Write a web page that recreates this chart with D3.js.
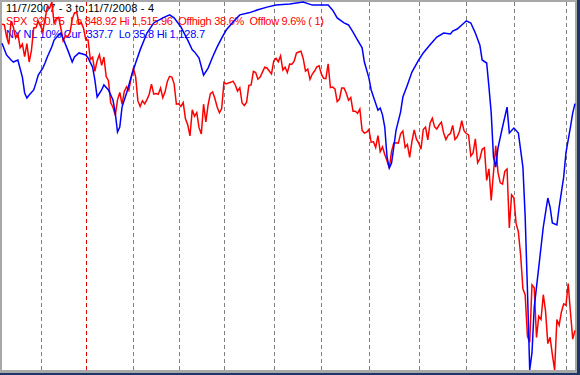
<!DOCTYPE html>
<html>
<head>
<meta charset="utf-8">
<script src="https://cdn.jsdelivr.net/npm/d3@7"></script>
<style>
  html, body { margin: 0; padding: 0; background: #1b3766; }
  svg { display: block; }
  text { white-space: pre; font-family: "Liberation Sans", Arial, sans-serif; font-size: 11px; }
</style>
</head>
<body>
<div class="chart"></div>
<script>
// trading days from 11/7/2007 to 11/7/2008, one close per day
var spxClose = [
  // Nov 2007
  1475.62, 1474.77, 1453.70, 1439.18, 1481.05, 1470.58, 1451.15, 1458.74, 1433.27, 1439.70, 1416.77, 1440.70, 1407.22, 1428.23, 1469.02, 1469.72, 1481.14,
  // Dec
  1472.42, 1462.79, 1485.01, 1507.34, 1504.66, 1515.96, 1477.65, 1486.59, 1488.41, 1467.95, 1445.90, 1454.98, 1453.00, 1460.12, 1484.46, 1496.45, 1497.66, 1476.27, 1478.49, 1468.36,
  // Jan 2008
  1447.16, 1447.16, 1411.63, 1416.18, 1390.19, 1409.13, 1420.33, 1401.02, 1416.25, 1380.95, 1373.20, 1333.25, 1325.19, 1310.50, 1338.60, 1352.07, 1330.61, 1353.97, 1362.30, 1355.81, 1378.55,
  // Feb
  1395.42, 1380.82, 1336.64, 1326.45, 1336.91, 1331.29, 1339.13, 1348.86, 1367.21, 1348.86, 1349.99, 1348.78, 1360.03, 1342.53, 1353.11, 1371.80, 1381.29, 1380.02, 1367.68, 1330.63,
  // Mar
  1331.34, 1326.75, 1333.70, 1304.34, 1293.37, 1273.37, 1320.65, 1308.77, 1315.48, 1288.14, 1276.60, 1330.74, 1298.42, 1329.51, 1349.88, 1352.99, 1341.13, 1325.76, 1315.22, 1322.70,
  // Apr
  1370.18, 1367.53, 1369.31, 1370.40, 1372.54, 1365.54, 1354.49, 1360.55, 1332.83, 1328.32, 1334.43, 1364.71, 1365.56, 1390.33, 1388.17, 1375.94, 1379.93, 1388.82, 1397.84, 1396.37, 1390.94, 1385.59,
  // May
  1409.34, 1413.90, 1407.49, 1418.26, 1392.57, 1397.68, 1388.28, 1403.58, 1403.04, 1408.66, 1423.57, 1425.35, 1426.63, 1413.40, 1390.71, 1394.35, 1375.93, 1385.35, 1390.84, 1398.26, 1400.38,
  // Jun
  1385.67, 1377.65, 1377.20, 1404.05, 1360.68, 1361.76, 1358.44, 1335.49, 1339.87, 1360.03, 1360.14, 1350.93, 1337.81, 1342.83, 1317.93, 1318.00, 1314.29, 1321.97, 1283.15, 1278.38, 1280.00,
  // Jul
  1284.91, 1261.52, 1262.90, 1252.31, 1273.70, 1244.69, 1253.39, 1239.49, 1228.30, 1214.91, 1245.36, 1260.32, 1260.68, 1260.00, 1277.00, 1282.19, 1252.54, 1257.76, 1234.37, 1263.20, 1284.26, 1267.38,
  // Aug
  1260.31, 1249.01, 1284.88, 1289.19, 1266.07, 1296.32, 1305.32, 1289.59, 1285.83, 1292.93, 1298.20, 1278.60, 1266.69, 1274.54, 1277.72, 1292.20, 1266.84, 1271.51, 1281.66, 1300.68, 1282.83,
  // Sep
  1277.58, 1274.98, 1236.83, 1242.31, 1267.79, 1224.51, 1232.04, 1249.05, 1251.70, 1192.70, 1213.60, 1156.39, 1206.51, 1255.08, 1207.09, 1188.22, 1185.87, 1209.18, 1213.27, 1106.39, 1166.36,
  // Oct
  1161.06, 1114.28, 1099.23, 1056.89, 996.23, 984.94, 909.92, 899.22, 1003.35, 998.01, 907.84, 946.43, 940.55, 985.40, 955.05, 896.78, 908.11, 876.77, 848.92, 940.51, 930.09, 954.09, 968.75,
  // Nov
  966.30, 1005.75, 952.77, 904.88, 920.75
];

// NY new lows 10%: [trading day, value]
var nlPoints = [
  [0, 158], [2, 193], [4, 208], [5, 214], [7, 208], [9, 259], [10, 306], [11, 321], [12, 312], [14, 297],
  [15, 276], [16, 253], [18, 232], [19, 217], [20, 199], [22, 169], [23, 149], [25, 134], [26, 128], [29, 178],
  [31, 214], [32, 199], [34, 187], [37, 193], [38, 202], [40, 229], [41, 267], [42, 318], [44, 297], [45, 282],
  [47, 297], [49, 327], [50, 365], [51, 422], [52, 407], [53, 348], [55, 306], [57, 259], [59, 217], [61, 178],
  [64, 128], [67, 98], [71, 83], [74, 74], [76, 83], [79, 110], [82, 149], [84, 178], [85, 184], [87, 202],
  [89, 253], [91, 232], [93, 199], [95, 169], [97, 143], [99, 119], [102, 95], [105, 74], [109, 68], [113, 59],
  [117, 51], [121, 45], [127, 42], [133, 35.8], [137, 45], [144, 45], [146, 60], [148, 83], [151, 98], [153, 104],
  [155, 125], [157, 149], [159, 172], [160, 214], [162, 261], [163, 297], [166, 357], [167, 351], [168, 371], [169, 407],
  [170, 496], [171, 529], [172, 514], [173, 466], [174, 416], [176, 362], [177, 318], [179, 282], [181, 244], [184, 208],
  [186, 187], [189, 163], [192, 140], [195, 128], [198, 131], [199, 122], [201, 116], [204, 98], [205, 92], [207, 98],
  [209, 128], [211, 164], [212, 208], [214, 217], [215, 288], [216, 365], [217, 496], [218, 526], [219, 469], [221, 407],
  [223, 348], [224, 425], [226, 410], [228, 425], [230, 526], [231, 674], [232, 891], [233, 1128.7], [234, 1078], [235, 942],
  [237, 823], [239, 704], [241, 618], [242, 645], [243, 692], [245, 698], [246, 645], [248, 556], [249, 484], [251, 407],
  [252, 365], [253, 337.7]
];

// first trading day of each month (Jan 2 marks the new year)
var monthStarts = [17, 37, 58, 78, 98, 120, 141, 162, 184, 205, 226, 249];
var yearStart = 37;

var headerLabel = '11/7/2007 - 3 to 11/7/2008 - 4';
var spxLabel = 'SPX  920.75  Lo 848.92 Hi 1,515.96  Offhigh 38.6%  Offlow 9.6% ( 1)';
var nlLabel = 'NY NL 10% Cur  337.7  Lo 35.8 Hi 1,128.7';

var spxRange = [848.92, 1515.96];
var nlRange = [35.8, 1128.7];

var width = 580;
var height = 375;
var plot = { left: 2, top: 2, right: 575, bottom: 370 };

var svg = d3.select('.chart')
  .append('svg')
    .attr('width', width)
    .attr('height', height);

// window frame
svg.append('rect')
  .attr('x', 0).attr('y', 0)
  .attr('width', 577).attr('height', 373)
  .style('fill', '#a8a8a8');
svg.append('rect')
  .attr('x', plot.left).attr('y', plot.top)
  .attr('width', plot.right - plot.left).attr('height', plot.bottom - plot.top)
  .style('fill', '#fff');

var xScale = d3.scaleLinear()
  .domain([0, spxClose.length - 1])
  .range([plot.left, plot.right]);

var ySpx = d3.scaleLinear()
  .domain(spxRange)
  .range([plot.bottom, plot.top]);

// new lows are drawn upside down
var yNl = d3.scaleLinear()
  .domain(nlRange)
  .range([plot.top, plot.bottom]);

svg.append('g')
  .selectAll('line')
  .data(monthStarts)
  .enter()
  .append('line')
    .attr('x1', d => Math.round(xScale(d)) + 0.5)
    .attr('x2', d => Math.round(xScale(d)) + 0.5)
    .attr('y1', plot.top)
    .attr('y2', plot.bottom)
    .style('stroke', d => d === yearStart ? '#e00000' : '#808080')
    .style('stroke-dasharray', '4,3')
    .style('stroke-width', 1);

// header lines, stretched to the width they take in the original
var labels = [
  { text: headerLabel, color: '#000', len: 148 },
  { text: spxLabel, color: '#ff0000', len: 318 },
  { text: nlLabel, color: '#0000ff', len: 199 }
];
svg.append('g')
  .selectAll('text')
  .data(labels)
  .enter()
  .append('text')
    .attr('x', 6)
    .attr('y', (d, i) => 12 + i * 13)
    .attr('textLength', d => d.len)
    .attr('lengthAdjust', 'spacing')
    .style('fill', d => d.color)
    .text(d => d.text);

var spxLine = d3.line()
  .x((d, i) => xScale(i))
  .y(d => ySpx(d));

var nlLine = d3.line()
  .x(d => xScale(d[0]))
  .y(d => yNl(d[1]));

svg.append('path')
  .datum(spxClose)
  .attr('d', spxLine)
  .style('fill', 'none')
  .style('stroke', '#ff0000')
  .style('stroke-width', 1.5);

svg.append('path')
  .datum(nlPoints)
  .attr('d', nlLine)
  .style('fill', 'none')
  .style('stroke', '#0000ff')
  .style('stroke-width', 1.5);
</script>
</body>
</html>
